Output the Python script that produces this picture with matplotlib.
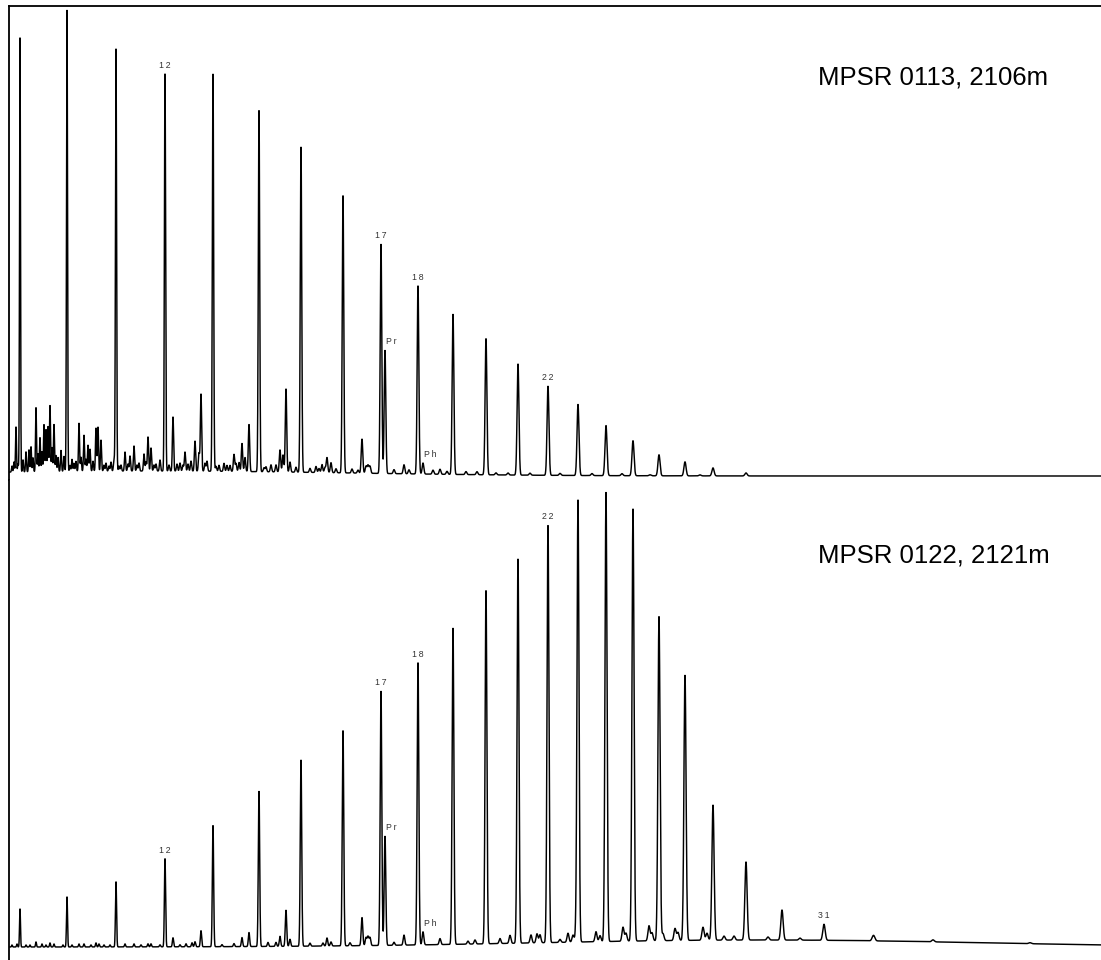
import numpy as np
import matplotlib
matplotlib.use("Agg")
import matplotlib.pyplot as plt

plt.rcParams['font.family'] = ['Liberation Sans', 'DejaVu Sans']

# retention positions of the n-alkanes and isoprenoids (same column, both runs)
rt_main = [20, 67, 116, 165, 213, 259, 301, 343, 381, 385, 418, 423,
           453, 486, 518, 548, 578, 606, 633, 659, 685, 713, 746, 782, 824, 874, 933]

# MPSR 0113, 2106m -- detector response of the main peaks
top_main = [434, 461, 422, 397, 397, 361, 325, 277, 229, 123, 188, 11,
            160, 136, 111, 89, 71, 50, 35, 21, 14, 8, 3, 0, 0, 0, 0]
# minor (unresolved / branched) peaks
top_minor_rt = [12, 14, 16, 18, 23, 26, 29, 31, 33, 36, 38, 40, 42, 44, 46, 48, 50,
                52, 54, 56, 58, 61, 64, 70, 72, 74, 76, 79, 81, 84, 86, 88, 90, 93,
                96, 98, 101, 104, 106, 109, 111, 114, 119, 121, 125, 128, 130, 134,
                137, 139, 144, 146, 148, 151, 154, 156, 160, 169, 173, 177, 180,
                183, 185, 188, 191, 195, 199, 201, 205, 207, 216, 219, 224, 227,
                230, 234, 236, 239, 242, 245, 249, 264, 266, 271, 276, 280, 283,
                286, 290, 296, 310, 316, 319, 322, 325, 327, 331, 336, 352, 358,
                362, 366, 368, 370, 394, 404, 409, 433, 440, 447, 466, 477, 496,
                508, 530, 560, 592, 622, 650, 700]
top_minor_h = [6, 10, 45, 8, 12, 20, 22, 25, 14, 64, 18, 34, 20, 47, 42, 45, 66,
               24, 47, 16, 14, 21, 15, 6, 12, 8, 10, 48, 14, 36, 12, 26, 22, 10,
               43, 44, 31, 6, 8, 5, 9, 12, 5, 6, 19, 7, 15, 25,
               6, 8, 17, 9, 34, 23, 6, 7, 11, 6, 54, 7, 8,
               6, 19, 7, 10, 30, 18, 77, 8, 10, 5, 6, 8, 6,
               6, 17, 8, 9, 28, 14, 47, 4, 5, 7, 7, 22, 17,
               83, 10, 5, 4, 6, 4, 8, 5, 15, 10, 4, 4, 3,
               34, 7, 8, 7, 4, 9, 4, 4, 5, 3, 3, 3, 2,
               2, 2, 2, 2, 2, 1, 1]

# MPSR 0122, 2121m
bot_main = [38, 50, 65, 88, 121, 155, 186, 215, 254, 109, 282, 13,
            316, 353, 384, 417, 441, 449, 432, 324, 265, 135, 78, 30, 16, 3, 2]
bot_minor_rt = [12, 17, 26, 30, 36, 42, 46, 50, 54, 63, 72, 79, 84, 91, 96, 99,
                104, 110, 125, 134, 141, 148, 151, 160, 173, 180, 186, 192, 195,
                201, 222, 234, 242, 249, 268, 276, 280, 286, 290, 310, 323, 327,
                331, 350, 362, 366, 368, 370, 394, 404, 440, 468, 475, 500, 510,
                531, 537, 540, 560, 568, 573, 576, 596, 600, 623, 626, 649, 652,
                663, 675, 678, 703, 707, 724, 734, 768, 800, 873, 1030]
bot_minor_h = [2, 3, 2, 2, 5, 3, 2, 4, 3, 2, 2, 3, 3, 2, 4, 3,
               2, 2, 3, 3, 2, 3, 3, 2, 9, 2, 3, 4, 5,
               16, 2, 3, 9, 14, 4, 4, 10, 36, 7, 3, 3, 8,
               4, 3, 28, 8, 9, 8, 3, 10, 6, 3, 4, 5, 8,
               8, 9, 8, 3, 9, 7, 8, 10, 6, 14, 8, 15, 8,
               7, 12, 8, 13, 7, 4, 4, 3, 2, 3, 1]

# broad baseline humps (unresolved complex mixture): centre, height, width
top_hump = (150, 5, 200)
bot_hump = (760, 7, 220)

top_labels = [("12", 165), ("17", 381), ("Pr", 385), ("18", 418), ("Ph", 423), ("22", 548)]
bot_labels = [("12", 165), ("17", 381), ("Pr", 385), ("18", 418), ("Ph", 423), ("22", 548),
              ("31", 824)]

rt = np.arange(9, 1101, 0.1)


def peak_width(pos):
    # peaks broaden with retention
    return 0.45 + pos / 1100.0


def trace(main_h, minor_rt, minor_h, hump):
    y = np.zeros_like(rt)
    for pos, h in zip(rt_main + minor_rt, main_h + minor_h):
        if h <= 0:
            continue
        s = peak_width(pos)
        y += h * np.exp(-0.5 * ((rt - pos) / s) ** 2)
    c, h, w = hump
    y += h * np.exp(-0.5 * ((rt - c) / w) ** 2)
    return y


def spaced(t):
    return "\u2009".join(t)


fig = plt.figure(figsize=(11.01, 9.6), dpi=100)
ax1 = fig.add_axes([9 / 1101, 0.5, 1 - 9 / 1101, 474 / 960])
ax2 = fig.add_axes([9 / 1101, 0.0, 1 - 9 / 1101, 0.5])

panels = [
    (ax1, top_main, top_minor_rt, top_minor_h, top_hump, top_labels,
     "MPSR 0113, 2106m", (-4, 470), 399, ['left', 'top']),
    (ax2, bot_main, bot_minor_rt, bot_minor_h, bot_hump, bot_labels,
     "MPSR 0122, 2121m", (-13, 467), 392, ['left']),
]

for ax, main_h, mrt, mh, hump, labels, title, ylim, title_y, spines in panels:
    y = trace(main_h, mrt, mh, hump)
    ax.plot(rt, y, color='black', lw=1.05)
    ax.set_xlim(9, 1101)
    ax.set_ylim(*ylim)
    ax.set_xticks([])
    ax.set_yticks([])
    for side in ['left', 'right', 'top', 'bottom']:
        ax.spines[side].set_visible(side in spines)
        ax.spines[side].set_linewidth(1.3)
    for txt, pos in labels:
        h = y[np.argmin(np.abs(rt - pos))]
        left = txt in ("Pr", "Ph")
        ax.annotate(spaced(txt), (pos, h), xytext=(1 if left else 0, 3),
                    textcoords='offset points', ha='left' if left else 'center',
                    va='bottom', fontsize=6.3, color='#333333')
    ax.text(818, title_y, title, fontsize=18.5, ha='left', va='center')

fig.savefig("out.png", dpi=100)
